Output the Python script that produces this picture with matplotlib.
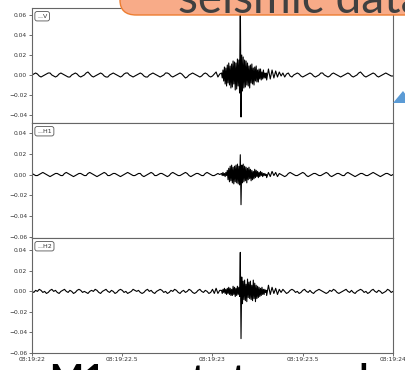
import matplotlib
matplotlib.use('Agg')
import matplotlib.pyplot as plt
from matplotlib.patches import FancyBboxPatch, Polygon
import numpy as np

# seismic traces, values in units of 0.001
# quiet part before the event: every 0.01 s from 08:19:22.00 to 08:19:23.04
pre_v = [0, 1, 2, 1, -1, -2, -1, 0, 1, 2,
         2, 0, -1, -2, -1, 1, 2, 1, 0, -1,
         -2, -2, 0, 1, 2, 1, -1, -2, -1, 0,
         2, 3, 1, -1, -2, -1, 0, 1, 2, 1,
         -1, -2, -2, 0, 1, 2, 1, 0, -1, -2,
         -1, 1, 2, 2, 0, -1, -2, -1, 0, 1,
         2, 1, -1, -2, -2, 0, 1, 2, 1, 0,
         -1, -2, -1, 0, 2, 2, 1, -1, -2, -1,
         0, 1, 2, 1, -1, -3, -2, 0, 1, 2,
         1, 0, -1, -2, -1, 1, 2, 1, -1, -2,
         -1, 1, 3, -2, 1]
pre_h1 = [1, 0, -1, -1, 0, 1, 2, 1, 0, -1,
          -2, -1, 0, 1, 1, 0, -1, -1, 1, 2,
          1, 0, -1, -2, -1, 0, 1, 1, 0, -1,
          -1, 1, 2, 1, 0, -1, -2, -1, 0, 1,
          2, 1, -1, -1, 0, 1, 1, 0, -1, -2,
          -1, 0, 1, 2, 1, 0, -1, -1, 0, 1,
          1, -1, -2, -1, 0, 1, 2, 1, -1, -1,
          0, 1, 1, 0, -1, -2, -1, 1, 2, 1,
          0, -1, -1, 0, 1, 2, 1, -1, -2, -1,
          0, 1, 1, 0, -1, -1, 1, 2, 1, 0,
          -1, -1, 0, 1, 0]
pre_h2 = [0, -1, 1, 0, 2, 1, -1, 0, -2, -1,
          1, 2, 0, 1, -1, -2, 0, 1, 2, 0,
          -1, 1, 0, -2, -1, 1, 2, 1, -1, 0,
          -1, -2, 0, 1, 0, 2, 1, -1, -2, 0,
          1, 2, 0, -1, 1, 0, -2, -1, 1, 2,
          1, -1, 0, -2, -1, 0, 2, 1, 0, 1,
          -1, -2, -1, 1, 2, 0, 1, -1, -2, 0,
          1, 2, 1, -1, 0, -2, -1, 1, 0, 2,
          1, -1, -2, 0, 1, -1, 0, 2, 1, -1,
          -2, -1, 1, 2, 0, -1, 1, 0, -2, -1,
          2, -2, 3, -2, 1]

# the event: every 0.004 s from 08:19:23.05 to 08:19:23.298
event_v = [2, -3, 5, -6, 8, -9, 7, -11, 10, -8,
           12, -10, 9, -13, 11, -12, 14, -9, 13, -15,
           12, -14, 16, -11, 15, -18, 80, -42, 20, -16,
           18, -13, 15, -12, 14, -10, 12, -11, 9, -13,
           10, -8, 11, -9, 7, -10, 8, -6, 9, -7,
           5, -7, 6, -4, 6, -5, 3, -4, 5, -3,
           2, -3, 2]
event_h1 = [1, -1, 2, -1, 1, -2, 2, -1, 4, -5,
            6, -7, 8, -6, 9, -8, 7, -9, 8, -7,
            9, -8, 10, -9, 8, -10, 19, -29, 9, -8,
            10, -7, 8, -6, 7, -8, 6, -5, 7, -4,
            5, -6, 4, -5, 3, -4, 5, -3, 4, -2,
            3, -3, 2, -2, 3, -1, 2, -2, 1, -1,
            1, -1, 0]
event_h2 = [1, -2, 2, -1, 3, -2, 2, -3, 3, -2,
            4, -3, 3, -4, 2, -4, 5, -3, 4, -5,
            3, -4, 5, -3, 4, -5, 38, -46, 14, -12,
            10, -8, 11, -9, 7, -10, 12, -6, 9, -7,
            10, -8, 6, -9, 11, -7, 8, -10, 6, -7,
            5, -6, 4, -5, 3, -4, 4, -3, 2, -3,
            2, -1, 1]

# coda: every 0.01 s from 08:19:23.30 to 08:19:24.00
post_v = [-5, 6, -4, 5, -3, 4, -2, 3, -1, 2,
          -2, 1, 2, -1, -2, 0, 1, 2, 1, -1,
          -2, -1, 0, 1, 2, 1, -1, -2, -1, 0,
          2, 2, 0, -1, -2, -1, 1, 2, 1, 0,
          -1, -2, -1, 0, 1, 2, 1, -1, -2, -1,
          0, 2, 3, 1, -1, -2, -1, 0, 1, 2,
          1, -1, -2, -1, 0, 1, 2, 1, 0, -1,
          -1]
post_h1 = [-3, 2, -2, 3, -1, 2, -2, 1, 0, -1,
           -2, -1, 1, 2, 1, 0, -1, -1, 0, 1,
           2, 1, -1, -2, -1, 0, 1, 1, 0, -1,
           -1, 0, 1, 2, 1, -1, -2, -1, 0, 1,
           1, 0, -1, -1, 1, 2, 1, 0, -1, -2,
           -1, 0, 1, 1, 0, -1, -1, 0, 1, 2,
           1, 0, -1, -2, -1, 0, 1, 1, 0, -1,
           0]
post_h2 = [-4, 6, -3, 4, -2, 3, -3, 2, -1, 2,
           0, -2, -1, 1, 2, 1, -1, 0, -2, -1,
           1, 2, 0, -1, 1, -1, -2, 0, 1, 2,
           1, 0, -1, -2, -1, 1, 0, 2, 1, -1,
           -2, -1, 0, 1, 2, 0, -1, 1, -1, -2,
           0, 1, 2, 1, -1, 0, -2, -1, 1, 2,
           0, -1, 1, 0, -2, -1, 0, 2, 1, -1,
           0]

channels = ['...V', '...H1', '...H2']
pres = [pre_v, pre_h1, pre_h2]
events = [event_v, event_h1, event_h2]
posts = [post_v, post_h1, post_h2]
ylims = [(-0.048, 0.067), (-0.061, 0.0495), (-0.06, 0.052)]
yticks = [[-0.04, -0.02, 0.0, 0.02, 0.04, 0.06],
          [-0.06, -0.04, -0.02, 0.0, 0.02, 0.04],
          [-0.06, -0.04, -0.02, 0.0, 0.02, 0.04]]
xticks = [0, 0.5, 1, 1.5, 2]
xticklabels = ['08:19:22', '08:19:22.5', '08:19:23', '08:19:23.5', '08:19:24']

W, H = 406, 370
fig = plt.figure(figsize=(W / 100, H / 100), dpi=100)

left, right = 32 / W, 393 / W
edges = [8, 123, 238, 353]  # panel borders in pixels from top

for k in range(3):
    bottom = 1 - edges[k + 1] / H
    top = 1 - edges[k] / H
    ax = fig.add_axes([left, bottom, right - left, top - bottom])
    t = np.concatenate([np.arange(len(pres[k])) * 0.01,
                        1.05 + np.arange(len(events[k])) * 0.004,
                        1.30 + np.arange(len(posts[k])) * 0.01])
    y = np.array(pres[k] + events[k] + posts[k]) * 0.001
    ax.plot(t, y, color='black', lw=0.8)
    ax.set_xlim(0, 2)
    ax.set_ylim(*ylims[k])
    ax.set_yticks(yticks[k])
    ax.set_yticklabels(['%.2f' % v if v >= 0 else '\u2212%.2f' % -v for v in yticks[k]])
    ax.tick_params(axis='y', labelsize=4.3, length=2, width=0.5, pad=1.5, colors='#333333')
    if k < 2:
        ax.set_xticks([])
    else:
        ax.set_xticks(xticks)
        ax.set_xticklabels(xticklabels)
        ax.tick_params(axis='x', labelsize=4.3, length=2, width=0.5, pad=1.0, colors='#333333')
    for s in ax.spines.values():
        s.set_color('#666666')
        s.set_linewidth(0.8)
    ax.text(0.014, 0.95, channels[k], transform=ax.transAxes, fontsize=4.5,
            va='top', ha='left', color='#333333',
            bbox=dict(boxstyle='round,pad=0.35', fc='white', ec='#555555', lw=0.6))

# slide decorations around the screenshot
callout = FancyBboxPatch((120 / W, 1 - 15 / H), 320 / W, 40 / H,
                         boxstyle='round,pad=0,rounding_size=0.04',
                         transform=fig.transFigure, fc='#F8AB88', ec='#ED7D31',
                         lw=1.0, zorder=5, clip_on=False)
fig.patches.append(callout)
fig.text(178 / W, 1 - 13 / H, 'seismic data', fontsize=33, family='Lato',
         color='#404040', va='baseline', ha='left', zorder=6)

tri = Polygon([(393 / W, 1 - 103 / H), (403 / W, 1 - 91 / H), (412 / W, 1 - 103 / H)],
              closed=True, transform=fig.transFigure, fc='#5B9BD5', ec='none', zorder=5)
fig.patches.append(tri)

fig.text(50 / W, 1 - 390 / H, 'M1 event at ocean bed', fontsize=26, family='Lato',
         weight='bold', color='black', va='baseline', ha='left', zorder=6)

fig.savefig('out.png', dpi=100)
